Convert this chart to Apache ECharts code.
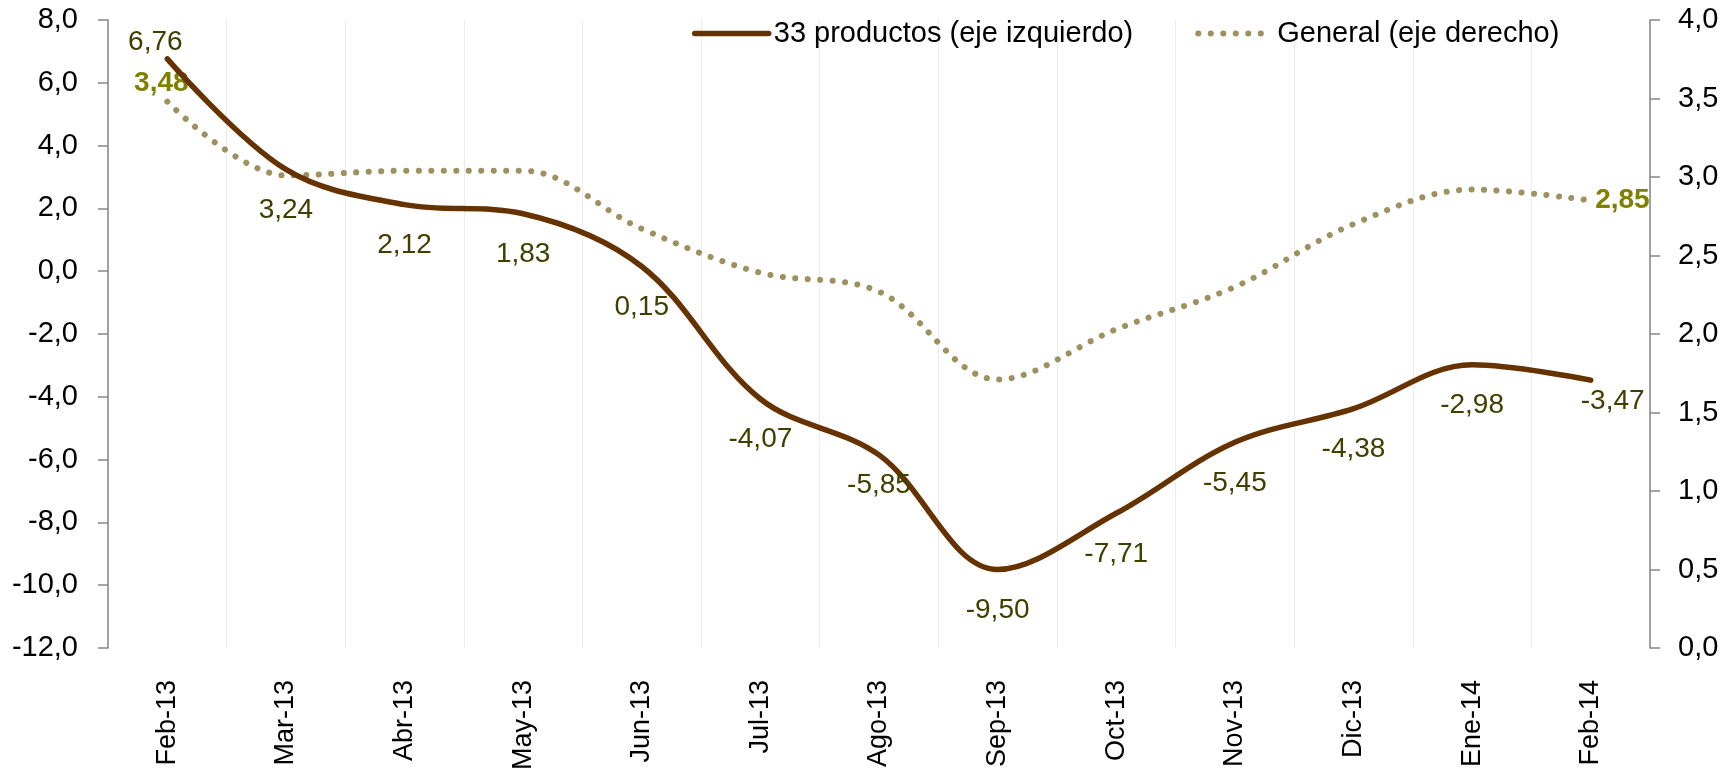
<!DOCTYPE html>
<html>
<head>
<meta charset="utf-8">
<script src="https://cdn.jsdelivr.net/npm/echarts@6/dist/echarts.min.js"></script>
<style>
  html, body { margin: 0; padding: 0; background: #fff; }
  #chart { width: 1734px; height: 775px; }
</style>
</head>
<body>
<div id="chart"></div>
<script>
// meses
var categories = ['Feb-13', 'Mar-13', 'Abr-13', 'May-13', 'Jun-13', 'Jul-13', 'Ago-13',
                  'Sep-13', 'Oct-13', 'Nov-13', 'Dic-13', 'Ene-14', 'Feb-14'];
// 33 productos (eje izquierdo)
var productos = [6.76, 3.24, 2.12, 1.83, 0.15, -4.07, -5.85, -9.50, -7.71, -5.45, -4.38, -2.98, -3.47];
// General (eje derecho)
var general = [3.48, 3.01, 3.04, 3.04, 2.67, 2.39, 2.27, 1.71, 2.03, 2.30, 2.70, 2.92, 2.85];

var leftTicks = { min: -12, max: 8, interval: 2 };
var rightTicks = { min: 0, max: 4, interval: 0.5 };

var font = 'Liberation Sans, Arial, sans-serif';
var clear = 'rgba(0,0,0,0)';

function coma(v, d) {
	return v.toFixed(d).replace('.', ',');
}

// etiquetas de 33 productos, casi todas debajo
var dataProductos = productos.map(function(v, i) {
	var item = { value: v };
	if (i == 0) {
		item.label = { position: 'top', distance: 2, offset: [-12, 0] };
	} else if (i == 6) {
		item.label = { distance: 16 };
	} else if (i == productos.length - 1) {
		item.label = { distance: 7, offset: [22, 0] };
	}
	return item;
});

// General: solo primera y ultima etiqueta
var dataGeneral = general.map(function(v, i) {
	var item = { value: v };
	if (i == 0) {
		item.label = { show: true, position: 'top', distance: 4, offset: [-6, 0] };
	} else if (i == general.length - 1) {
		item.label = { show: true, position: 'right', distance: 4 };
	}
	return item;
});

var axisLineStyle = { color: '#868686', width: 1.5 };

var myChart = echarts.init(document.getElementById('chart'));
var option = {
	backgroundColor: '#fff',
	animation: false,
	grid: { left: 108, right: 84, top: 20, bottom: 127 },
	legend: {
		left: 687,
		top: 14,
		itemWidth: 74,
		itemHeight: 20,
		itemGap: 62,
		lineStyle: { width: 'inherit' },
		itemStyle: { color: clear, borderWidth: 0 },
		textStyle: { fontFamily: font, fontSize: 29, color: '#000' },
		data: ['33 productos (eje izquierdo)', 'General (eje derecho)']
	},
	xAxis: {
		type: 'category',
		data: categories,
		boundaryGap: true,
		axisLine: { show: false },
		axisTick: { show: false },
		splitLine: { show: true, lineStyle: { color: '#ececec', width: 1 } },
		axisLabel: {
			rotate: 90,
			margin: 32,
			fontFamily: font,
			fontSize: 27,
			color: '#000',
			interval: 0
		}
	},
	yAxis: [
		{
			type: 'value',
			min: leftTicks.min,
			max: leftTicks.max,
			interval: leftTicks.interval,
			axisLine: { show: true, lineStyle: axisLineStyle },
			axisTick: { show: true, length: 10, lineStyle: axisLineStyle },
			splitLine: { show: false },
			axisLabel: {
				margin: 30,
				fontFamily: font,
				fontSize: 29,
				color: '#000',
				formatter: function(v) { return coma(v, 1); }
			}
		},
		{
			type: 'value',
			position: 'right',
			min: rightTicks.min,
			max: rightTicks.max,
			interval: rightTicks.interval,
			axisLine: { show: true, lineStyle: axisLineStyle },
			axisTick: { show: true, length: 10, lineStyle: axisLineStyle },
			splitLine: { show: false },
			axisLabel: {
				margin: 28,
				fontFamily: font,
				fontSize: 29,
				color: '#000',
				formatter: function(v) { return coma(v, 1); }
			}
		}
	],
	series: [
		{
			name: 'General (eje derecho)',
			type: 'line',
			yAxisIndex: 1,
			data: dataGeneral,
			smooth: 0.35,
			symbol: 'circle',
			symbolSize: 1,
			itemStyle: { color: clear },
			lineStyle: { color: '#9e9160', width: 6, type: [0.1, 12.4], cap: 'round' },
			label: {
				show: false,
				fontFamily: font,
				fontSize: 28,
				fontWeight: 'bold',
				lineHeight: 28,
				color: '#808000',
				formatter: function(p) { return coma(p.value, 2); }
			},
			emphasis: { disabled: true },
			z: 2
		},
		{
			name: '33 productos (eje izquierdo)',
			type: 'line',
			yAxisIndex: 0,
			data: dataProductos,
			smooth: 0.35,
			symbol: 'circle',
			symbolSize: 1,
			itemStyle: { color: clear },
			lineStyle: { color: '#663300', width: 5.5, cap: 'round' },
			label: {
				show: true,
				position: 'bottom',
				distance: 26,
				fontFamily: font,
				fontSize: 28,
				lineHeight: 28,
				color: '#3f3f00',
				formatter: function(p) { return coma(p.value, 2); }
			},
			emphasis: { disabled: true },
			z: 3
		}
	]
};
myChart.setOption(option);
</script>
</body>
</html>
